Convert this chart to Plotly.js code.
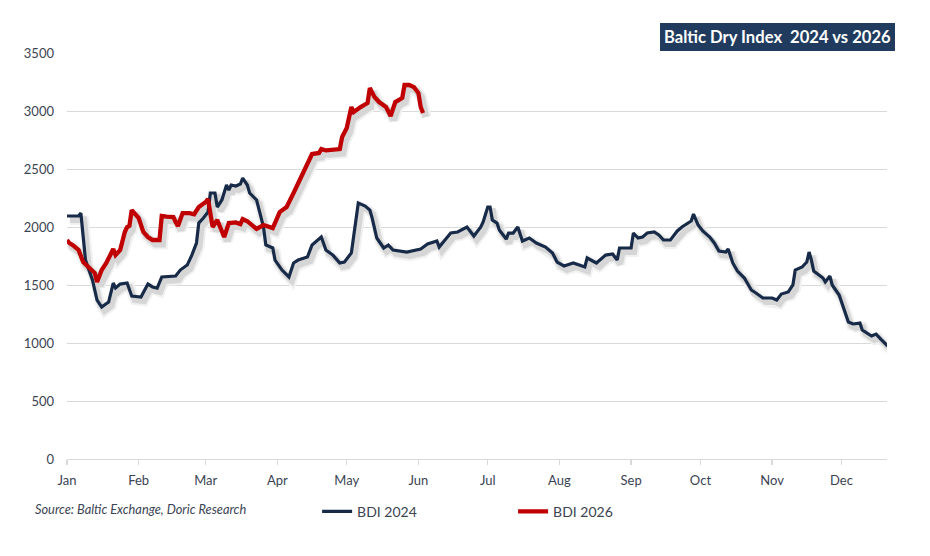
<!DOCTYPE html>
<html>
<head>
<meta charset="utf-8">
<script src="https://cdn.plot.ly/plotly-3.0.1.min.js"></script>
<style>
  html, body { margin: 0; padding: 0; background: #ffffff; }
  #chart { width: 930px; height: 556px; }
</style>
</head>
<body>
<div id="chart"></div>
<script>
// Month labels and the day-of-year each month starts on (2024 calendar)
const monthLabels = ['Jan','Feb','Mar','Apr','May','Jun','Jul','Aug','Sep','Oct','Nov','Dec'];
const monthStartDays = [0,31,60,91,121,152,182,213,244,274,305,335];

// BDI 2024 (day of year, index value)
const bdi2024Days = [0,5,6,8,11,13,15,18,20,21,23,26,28,32,35,37,39,41,47,49,52,54,56,57,59,61,62,64,65,67,69,70,71,73,75,76,78,79,82,83,85,86,89,90,93,96,98,100,104,106,110,112,115,118,120,123,124,126,129,131,132,134,137,139,141,147,153,156,160,161,166,169,173,176,179,180,182,183,184,186,187,190,191,193,195,196,197,200,203,207,210,212,215,219,222,224,225,229,233,236,238,239,244,245,247,249,251,254,256,258,261,264,266,270,271,273,275,278,280,282,285,286,288,290,293,296,298,301,305,307,309,312,314,315,318,320,321,322,323,325,327,328,330,331,334,338,340,343,344,348,350,352,355];
const bdi2024Values = [2095,2095,2120,1715,1543,1370,1310,1353,1517,1474,1508,1517,1405,1396,1508,1483,1474,1569,1577,1629,1672,1758,1862,2034,2077,2129,2293,2293,2172,2233,2362,2319,2362,2353,2370,2422,2362,2293,2233,2146,2000,1845,1819,1715,1629,1569,1690,1715,1741,1845,1914,1802,1758,1690,1698,1776,1914,2207,2181,2146,2077,1905,1819,1845,1802,1784,1810,1853,1879,1827,1948,1957,2000,1922,2000,2043,2172,2172,2060,2034,1974,1896,1948,1948,2000,1948,1879,1905,1862,1827,1776,1698,1664,1690,1672,1655,1733,1690,1758,1767,1715,1819,1819,1948,1905,1914,1948,1957,1931,1888,1888,1966,2000,2052,2112,2017,1966,1914,1862,1793,1784,1810,1690,1620,1560,1457,1431,1388,1388,1370,1422,1440,1500,1629,1655,1698,1784,1715,1620,1594,1560,1526,1577,1500,1414,1181,1164,1172,1112,1060,1077,1034,974];

// BDI 2026 (day of year, index value)
const bdi2026Days = [0,1,3,5,7,10,12,13,15,17,18,20,21,23,25,26,27,28,31,33,35,37,40,41,43,46,47,48,50,53,55,57,60,61,62,63,65,68,70,73,75,76,78,82,85,89,92,95,98,101,103,106,109,110,112,118,119,121,123,124,127,130,131,133,135,138,140,142,145,146,148,150,152,153,154];
const bdi2026Values = [1888,1862,1836,1802,1698,1646,1603,1526,1629,1690,1733,1810,1758,1802,1957,2000,2010,2146,2077,1957,1914,1888,1888,2095,2090,2086,2043,2008,2120,2120,2110,2172,2215,2241,2120,2000,2060,1914,2034,2040,2026,2069,2050,1983,2017,1991,2129,2172,2293,2422,2491,2629,2638,2672,2660,2672,2776,2853,3034,2991,3034,3069,3198,3120,3077,3034,2957,3077,3112,3224,3224,3207,3155,3034,2982];

const seriesNames = ['BDI 2024', 'BDI 2026'];
const titleText = 'Baltic Dry Index  2024 vs 2026';
const sourceText = 'Source: Baltic Exchange, Doric Research';

const FONT = 'Lato, "Open Sans", sans-serif';
const TEXT = '#3b4453';
const NAVY = '#172a48';
const RED = '#c00000';

// axis ranges
const X_RANGE = [0, 354.7];
const Y_RANGE = [0, 3500];
// drop-shadow offset expressed in pixels, converted through the axis scale
const PLOT_W = 930 - 67 - 43, PLOT_H = 556 - 53 - 97;
const SHADOW_DX = 3, SHADOW_DY = 4;
const dxData = SHADOW_DX * (X_RANGE[1] - X_RANGE[0]) / PLOT_W;
const dyData = SHADOW_DY * (Y_RANGE[1] - Y_RANGE[0]) / PLOT_H;

function shadow(x, y, w, c) {
  return { x: x, y: y, type: 'scatter', mode: 'lines', xaxis: 'x', yaxis: 'y',
    line: { color: c, width: w }, showlegend: false, hoverinfo: 'skip' };
}

const traces = [
  shadow(bdi2024Days, bdi2024Values, 10, '#f1f1f1'),
  shadow(bdi2026Days, bdi2026Values, 11, '#f1f1f1'),
  shadow(bdi2024Days, bdi2024Values, 6, '#d6d6d6'),
  shadow(bdi2026Days, bdi2026Values, 7, '#d6d6d6'),
  { x: bdi2024Days, y: bdi2024Values, name: seriesNames[0], type: 'scatter', mode: 'lines',
    xaxis: 'x2', yaxis: 'y2',
    line: { color: NAVY, width: 3.2 }, legend: 'legend', hoverinfo: 'skip' },
  { x: bdi2026Days, y: bdi2026Values, name: seriesNames[1], type: 'scatter', mode: 'lines',
    xaxis: 'x2', yaxis: 'y2',
    line: { color: RED, width: 4.3 }, legend: 'legend2', hoverinfo: 'skip' }
];

const hiddenAxis = { showticklabels: false, showgrid: false, showline: false, zeroline: false, ticks: '', fixedrange: true };

const layout = {
  width: 930, height: 556,
  margin: { l: 67, r: 43, t: 53, b: 97 },
  paper_bgcolor: '#ffffff', plot_bgcolor: 'rgba(0,0,0,0)',
  font: { family: FONT, color: TEXT, size: 13 },
  // shadow axes (not drawn), shifted by the shadow offset
  xaxis: Object.assign({ range: [X_RANGE[0] - dxData, X_RANGE[1] - dxData] }, hiddenAxis),
  yaxis: Object.assign({ range: [Y_RANGE[0] + dyData, Y_RANGE[1] + dyData] }, hiddenAxis),
  xaxis2: {
    overlaying: 'x', side: 'bottom', anchor: 'y2',
    range: X_RANGE, tickmode: 'array', tickvals: monthStartDays, ticktext: monthLabels,
    showgrid: false, zeroline: false, showline: true, linecolor: '#d9d9d9', linewidth: 1.3,
    ticks: 'outside', ticklen: 5, tickcolor: '#d9d9d9', tickwidth: 1.3,
    tickfont: { family: FONT, size: 13, color: TEXT }, ticklabelstandoff: 4, fixedrange: true
  },
  yaxis2: {
    overlaying: 'y', side: 'left', anchor: 'x2',
    range: Y_RANGE, dtick: 500, tick0: 0, showgrid: true, gridcolor: '#d9d9d9', gridwidth: 1,
    zeroline: false, showline: false, ticks: '',
    tickfont: { family: FONT, size: 13, color: TEXT }, ticklabelstandoff: 12, fixedrange: true
  },
  showlegend: true,
  legend: { x: 0.305, xanchor: 'left', y: -0.13, yanchor: 'middle', orientation: 'h',
    bgcolor: 'rgba(0,0,0,0)', font: { family: FONT, size: 14, color: TEXT } },
  legend2: { x: 0.544, xanchor: 'left', y: -0.13, yanchor: 'middle', orientation: 'h',
    bgcolor: 'rgba(0,0,0,0)', font: { family: FONT, size: 14, color: TEXT } },
  annotations: [
    { text: '<b>' + titleText + '</b>', xref: 'paper', yref: 'paper', x: 1, y: 1,
      xanchor: 'right', yanchor: 'bottom', xshift: 8, yshift: 2, showarrow: false,
      bgcolor: '#213b5e', bordercolor: '#213b5e', borderwidth: 1, borderpad: 3,
      font: { family: FONT, size: 16.6, color: '#ffffff' } },
    { text: '<i>' + sourceText + '</i>', xref: 'paper', yref: 'paper', x: -0.0414, y: -0.123,
      xanchor: 'left', yanchor: 'middle', showarrow: false,
      font: { family: FONT, size: 12.8, color: TEXT } }
  ]
};

Plotly.newPlot('chart', traces, layout, { displayModeBar: false, staticPlot: true });
</script>
</body>
</html>
